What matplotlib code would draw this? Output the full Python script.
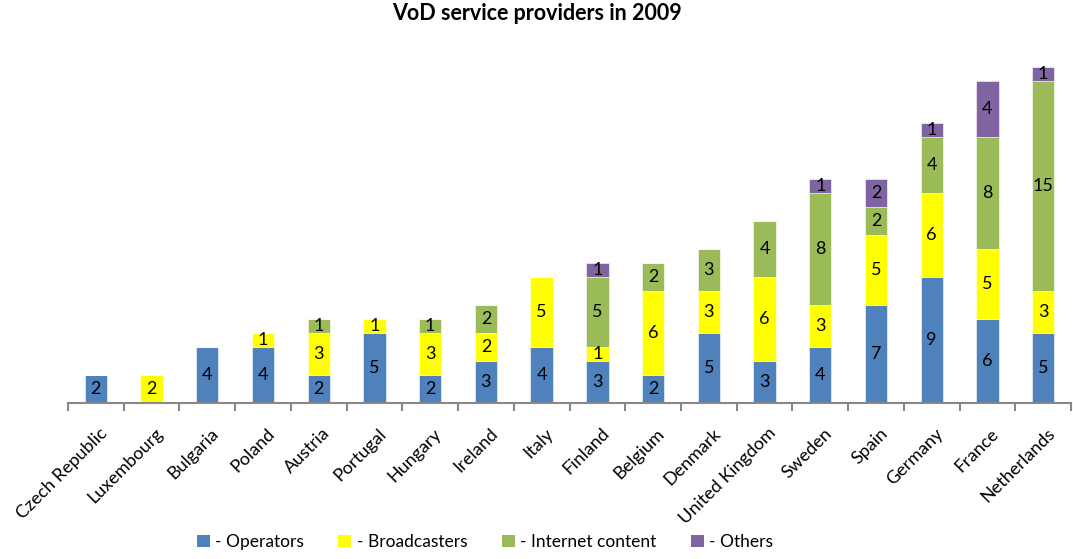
import numpy as np
import matplotlib.pyplot as plt
from matplotlib.patches import Patch

countries = ['Czech Republic', 'Luxembourg', 'Bulgaria', 'Poland', 'Austria', 'Portugal',
             'Hungary', 'Ireland', 'Italy', 'Finland', 'Belgium', 'Denmark',
             'United Kingdom', 'Sweden', 'Spain', 'Germany', 'France', 'Netherlands']
operators     = [2, 0, 4, 4, 2, 5, 2, 3, 4, 3, 2, 5, 3, 4, 7, 9, 6, 5]
broadcasters  = [0, 2, 0, 1, 3, 1, 3, 2, 5, 1, 6, 3, 6, 3, 5, 6, 5, 3]
internet      = [0, 0, 0, 0, 1, 0, 1, 2, 0, 5, 2, 3, 4, 8, 2, 4, 8, 15]
others        = [0, 0, 0, 0, 0, 0, 0, 0, 0, 1, 0, 0, 0, 1, 2, 1, 4, 1]

series = [
    ('- Operators', operators, '#4F81BD'),
    ('- Broadcasters', broadcasters, '#FFFF00'),
    ('- Internet content', internet, '#9BBB59'),
    ('- Others', others, '#8064A2'),
]

plt.rcParams['font.family'] = ['Lato', 'DejaVu Sans']

fig = plt.figure(figsize=(10.73, 5.59), dpi=100)
ax = fig.add_axes([68 / 1073, 1 - 403 / 559, (1071 - 68) / 1073, 364 / 559])

x = np.arange(len(countries))
bottom = np.zeros(len(countries))
for name, vals, color in series:
    vals = np.array(vals, dtype=float)
    ax.bar(x, vals, width=0.4, bottom=bottom, color=color, edgecolor='white',
           linewidth=0.4)
    for xi, b, v in zip(x, bottom, vals):
        if v > 0:
            ax.text(xi, b + v / 2, f'{int(v)}', ha='center', va='center',
                    fontsize=13, color='black')
    bottom += vals

ax.set_xlim(-0.5, len(countries) - 0.5)
ax.set_ylim(0, 26)
ax.set_yticks([])
for s in ['top', 'right', 'left']:
    ax.spines[s].set_visible(False)
ax.spines['bottom'].set_color('#888888')
ax.spines['bottom'].set_linewidth(1.5)

# tick marks sit between categories, labels under each bar
ax.set_xticks(np.arange(-0.5, len(countries)), minor=False)
ax.set_xticklabels([])
ax.tick_params(axis='x', which='major', length=6, width=1.5, color='#888888')
ax.set_xticks(x + 0.06, minor=True)
ax.set_xticklabels(countries, minor=True, rotation=45, ha='right',
                   rotation_mode='anchor', fontsize=13)
ax.tick_params(axis='x', which='minor', length=0, pad=16)

fig.suptitle('VoD service providers in 2009', fontsize=15.5, fontweight='bold', y=0.995)

handles = [Patch(facecolor=c, edgecolor='none', label=n) for n, _, c in series]
fig.legend(handles=handles, loc='lower center', ncol=4, frameon=False,
           fontsize=12.5, handlelength=0.75, handleheight=0.75, handletextpad=0.3,
           columnspacing=2.0, bbox_to_anchor=(0.452, -0.012))

fig.savefig('out.png', dpi=100)
